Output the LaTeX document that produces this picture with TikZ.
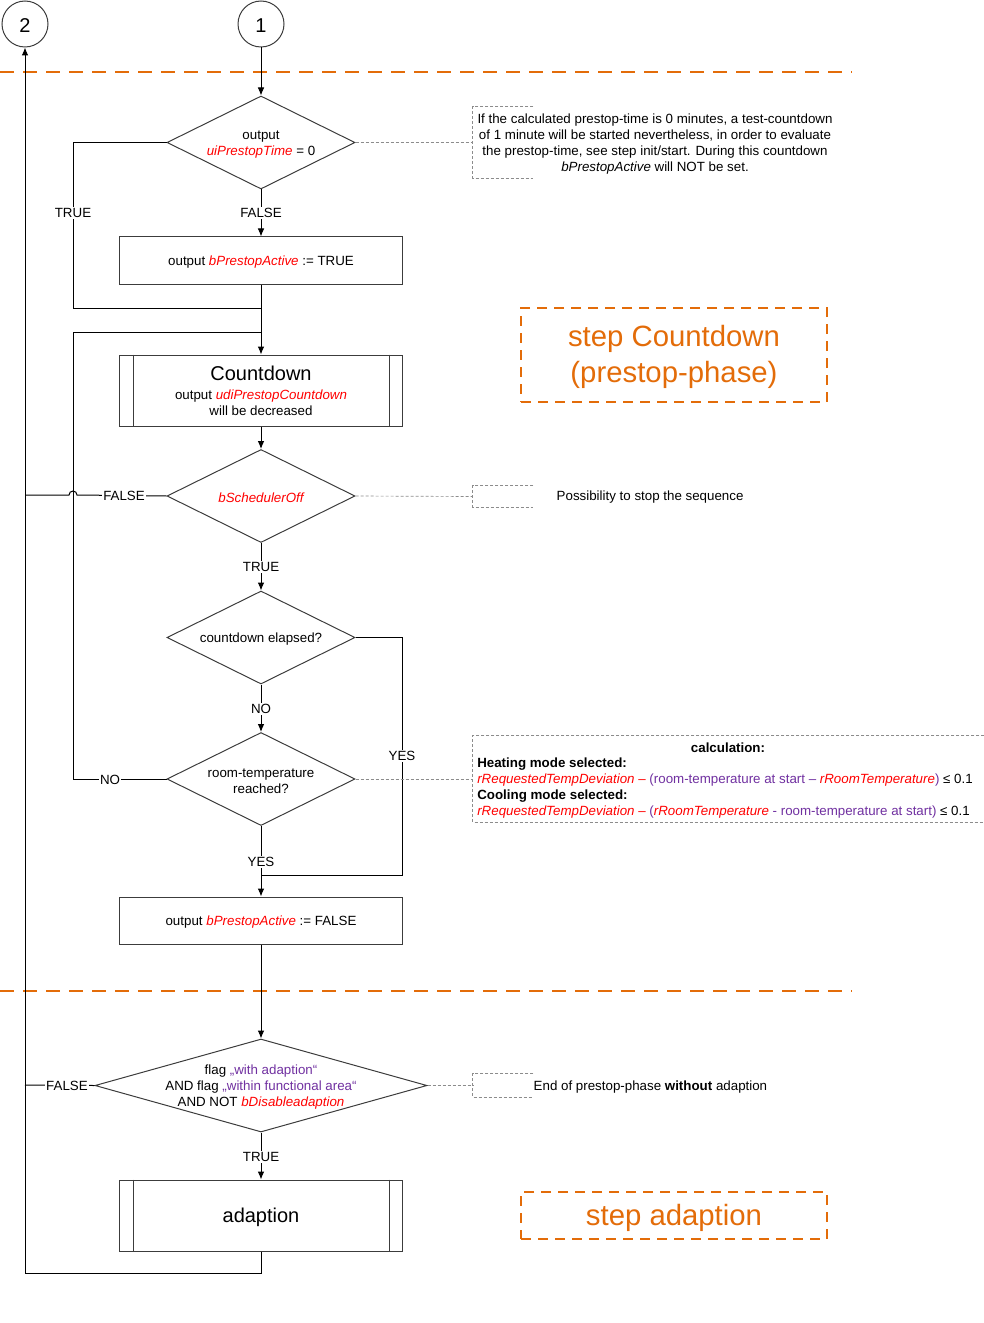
\documentclass[tikz,border=0pt]{standalone}
\usepackage{fontspec}
\setmainfont{Liberation Sans}
\usetikzlibrary{arrows.meta,shapes.geometric,calc}
\definecolor{varred}{RGB}{255,0,0}
\definecolor{purp}{RGB}{112,48,160}
\definecolor{orng}{RGB}{227,108,9}
\definecolor{notegray}{RGB}{140,140,140}
\definecolor{shapegray}{RGB}{60,60,60}
\newcommand{\vr}[1]{\textcolor{varred}{\itshape #1}}
\newcommand{\pp}[1]{\textcolor{purp}{#1}}
\begin{document}
\begin{tikzpicture}[x=0.75pt,y=-0.75pt,
  every node/.style={font=\fontsize{10}{12}\selectfont},
  txt/.style={yshift=-1.5pt, align=center},
  line/.style={draw=black, line width=0.75pt},
  arr/.style={line, -{Latex[length=6pt,width=5pt]}},
  proc/.style={draw=shapegray, line width=0.75pt, minimum width=283*0.75pt, minimum height=47*0.75pt, inner sep=0pt},
  sub/.style={proc, minimum height=71*0.75pt},
  dia/.style={diamond, draw=shapegray, line width=0.75pt, minimum width=188*0.75pt, minimum height=93*0.75pt, inner sep=0pt},
  conn/.style={circle, draw=shapegray, line width=0.75pt, minimum size=46*0.75pt, inner sep=0pt},
  lbl/.style={fill=white, inner sep=1pt, yshift=-1pt},
  notel/.style={draw=notegray, line width=0.5pt, dash pattern=on 2.25pt off 1.5pt},
  notebox/.style={inner sep=0pt},
  sepline/.style={draw=orng, line width=1.5pt, dash pattern=on 10.5pt off 6.75pt},
  stepbox/.style={draw=orng, line width=1.5pt, dash pattern=on 7.5pt off 5.25pt, minimum width=306*0.75pt, inner sep=0pt},
  steptxt/.style={txt, text=orng, font=\fontsize{22}{27}\selectfont}
]
\useasboundingbox (0,0) rectangle (984,1323);

% separators
\draw[sepline] (0,72) -- (852,72);
\draw[sepline] (0,991) -- (852,991);

% connectors (circles)
\node[conn] (c2) at (25,24) {};
\node[txt, font=\fontsize{15}{18}\selectfont] (c2t) at (c2) {2};
\node[conn] (c1) at (261,24) {};
\node[txt, font=\fontsize{15}{18}\selectfont] (c1t) at (c1) {1};

% decision 1
\node[dia] (d1) at (261,142.5) {};
\node[txt] (d1t) at (d1) {output\\\vr{uiPrestopTime} = 0};

% box bPrestopActive TRUE
\node[proc] (b1) at (261,260.5) {};
\node[txt] (b1t) at (b1) {output \vr{bPrestopActive} := TRUE};

% countdown subprocess
\node[sub] (cd) at (261,390.5) {};
\node[align=center] (cdt) at (cd) {{\fontsize{15}{18}\selectfont Countdown}\\[2.25pt]output \vr{udiPrestopCountdown}\\will be decreased};
\draw[draw=shapegray, line width=0.75pt] ($(cd.north west)+(14,0)$) -- ($(cd.south west)+(14,0)$);
\draw[draw=shapegray, line width=0.75pt] ($(cd.north east)+(-14,0)$) -- ($(cd.south east)+(-14,0)$);

% decision bSchedulerOff
\node[dia] (d2) at (261,496) {};
\node[txt] (d2t) at (d2) {\vr{bSchedulerOff}};

% decision countdown elapsed
\node[dia] (d3) at (261,637.5) {};
\node[txt] (d3t) at (d3) {countdown elapsed?};

% decision room-temperature reached
\node[dia] (d4) at (261,779) {};
\node[txt] (d4t) at (d4) {room-temperature\\reached?};

% box bPrestopActive FALSE
\node[proc] (b2) at (261,920.5) {};
\node[txt] (b2t) at (b2) {output \vr{bPrestopActive} := FALSE};

% decision adaption flags
\node[dia, minimum width=332*0.75pt] (d5) at (261,1085.5) {};
\node[txt] (d5t) at (d5) {flag \pp{„with adaption“}\\AND flag \pp{„within functional area“}\\AND NOT \vr{bDisableadaption}};

% adaption subprocess
\node[sub] (ad) at (261,1215.5) {};
\node[txt, font=\fontsize{15}{18}\selectfont] (adt) at (ad) {adaption};
\draw[draw=shapegray, line width=0.75pt] ($(ad.north west)+(14,0)$) -- ($(ad.south west)+(14,0)$);
\draw[draw=shapegray, line width=0.75pt] ($(ad.north east)+(-14,0)$) -- ($(ad.south east)+(-14,0)$);

% step boxes
\node[stepbox, minimum height=94*0.75pt] (s1) at (674,355) {};
\node[steptxt] (s1t) at (s1) {step Countdown\\(prestop-phase)};
\node[stepbox, minimum height=47*0.75pt] (s2) at (674,1215.5) {};
\node[steptxt] (s2t) at (s2) {step adaption};

% coordinates
\coordinate (tl) at (73,308);
\coordinate (j1) at (261,308);
\coordinate (nl) at (73,332);
\coordinate (j2) at (261,332);
\coordinate (jmp) at (77,495);
\coordinate (lf1) at (25,495);
\coordinate (yc) at (402,875);
\coordinate (j3) at (261,875);
\coordinate (lf2) at (25,1085);
\coordinate (rb) at (25,1273);

% main flow
\draw[arr] (c1.south) -- (d1.north);
\draw[arr] (d1.south) -- (b1.north);
\draw[arr] (b1.south) -- (cd.north);
\draw[line] (d1.west) -| (tl) -- (j1);
\draw[line] (d4.west) -| (nl) -- (j2);
\draw[arr] (cd.south) -- (d2.north);
\draw[arr] (d2.south) -- (d3.north);
\draw[arr] (d3.south) -- (d4.north);
\draw[line] (d3.east) -| (yc) -- (j3);
\draw[arr] (d4.south) -- (b2.north);
\draw[arr] (b2.south) -- (d5.north);
\draw[arr] (d5.south) -- (ad.north);
\draw[line] (d2.west) -- (jmp) arc[start angle=0, end angle=180, radius=3pt] -- (lf1);
\draw[line] (d5.west) -- (lf2);
\draw[arr] (ad.south) |- (rb) -- (c2.south);

% labels
\node[lbl] (l1) at (261,212) {FALSE};
\node[lbl] (l2) at (73,212) {TRUE};
\node[lbl] (l3) at (124,495) {FALSE};
\node[lbl] (l4) at (261,566) {TRUE};
\node[lbl] (l5) at (261,708) {NO};
\node[lbl] (l6) at (402,755) {YES};
\node[lbl] (l7) at (110,779) {NO};
\node[lbl] (l8) at (261,861) {YES};
\node[lbl] (l9) at (67,1085) {FALSE};
\node[lbl] (l10) at (261,1156) {TRUE};

% notes
\node[notebox, minimum width=60*0.75pt, minimum height=71*0.75pt] (n1) at (503,142.5) {};
\draw[notel] (n1.north east) -- (n1.north west) -- (n1.south west) -- (n1.south east);
\draw[notel] (d1.east) -- (n1.west);
\node[txt] (n1t) at (655,142) {If the calculated prestop-time is 0 minutes, a test-countdown\\of 1 minute will be started nevertheless, in order to evaluate\\the prestop-time, see step init/start. During this countdown\\\textit{bPrestopActive} will NOT be set.};

\node[notebox, minimum width=60*0.75pt, minimum height=21*0.75pt] (n2) at (503,496.5) {};
\draw[notel] (n2.north east) -- (n2.north west) -- (n2.south west) -- (n2.south east);
\draw[notel] (d2.east) -- (n2.west);
\node[txt, anchor=west] (n2t) at (552,495) {Possibility to stop the sequence};

\node[notebox, minimum width=511*0.75pt, minimum height=86*0.75pt] (n3) at (728.5,779) {};
\draw[notel] (n3.north east) -- (n3.north west) -- (n3.south west) -- (n3.south east);
\draw[notel] (d4.east) -- (n3.west);
\node[txt] (n3h) at (728,746) {\textbf{calculation:}};
\node[txt, align=left, anchor=west, inner sep=0pt] (n3t) at (477,786) {\textbf{Heating mode selected:}\\
\vr{rRequestedTempDeviation} \textcolor{varred}{–} \pp{(room-temperature at start –} \vr{rRoomTemperature}\pp{)} ≤ 0.1\\
\textbf{Cooling mode selected:}\\
\vr{rRequestedTempDeviation} \textcolor{varred}{–} \pp{(}\vr{rRoomTemperature} \pp{- room-temperature at start)} ≤ 0.1};

\node[notebox, minimum width=60*0.75pt, minimum height=23*0.75pt] (n4) at (503,1085.5) {};
\draw[notel] (n4.north east) -- (n4.north west) -- (n4.south west) -- (n4.south east);
\draw[notel] (d5.east) -- (n4.west);
\node[txt, anchor=west] (n4t) at (529,1085) {End of prestop-phase \textbf{without} adaption};
\end{tikzpicture}
\end{document}
